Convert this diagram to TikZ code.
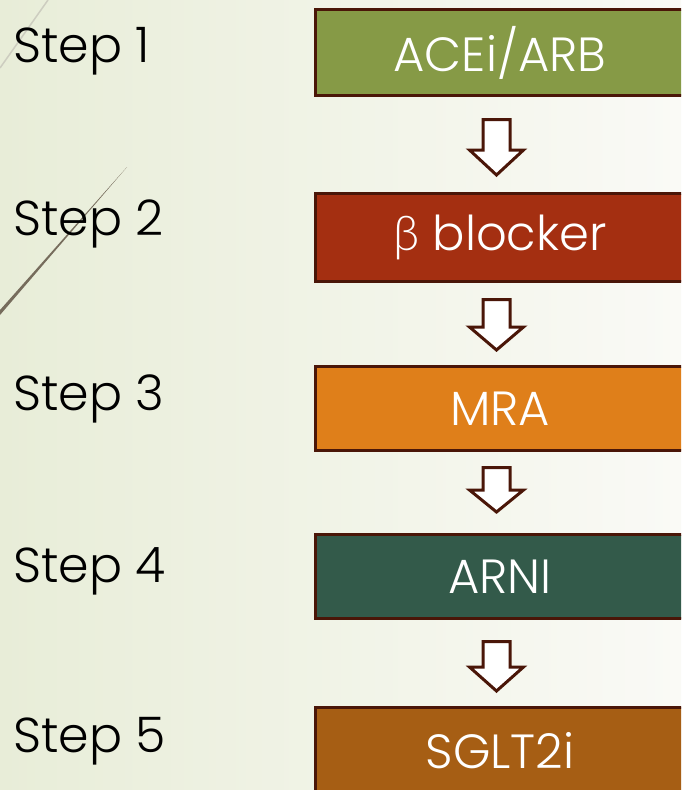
\documentclass[tikz,border=0pt]{standalone}
\usepackage{fontspec}
\setmainfont{Poppins}[UprightFont=* Light]
\newfontfamily\grk{Lato}[UprightFont=* Light]
\usetikzlibrary{calc}
\definecolor{bgleft}{RGB}{232,237,216}
\definecolor{bgright}{RGB}{250,250,246}
\definecolor{edge}{RGB}{74,22,8}
\definecolor{cA}{RGB}{134,154,70}
\definecolor{cB}{RGB}{164,47,17}
\definecolor{cC}{RGB}{223,127,26}
\definecolor{cD}{RGB}{51,90,74}
\definecolor{cE}{RGB}{166,94,20}
\definecolor{lineA}{RGB}{205,205,192}
\definecolor{lineB}{RGB}{118,108,92}
\tikzset{
  drugbox/.style={draw=edge, line width=3pt, minimum width=369pt, inner sep=0pt,
    text=white, font=\fontsize{48}{56}\selectfont},
  steplabel/.style={anchor=base west, inner sep=0pt, text=black,
    font=\fontsize{49}{58}\selectfont},
  blockarrow/.style={draw=edge, fill=white, line width=3pt, line join=miter}
}
\begin{document}
\begin{tikzpicture}[x=1pt,y=-1pt]
\useasboundingbox (0,0) rectangle (681,790);
\clip (0,0) rectangle (681,790);
\shade[left color=bgleft, right color=bgright] (0,0) rectangle (681,790);
% decorative strokes
\draw[lineA, line width=1.5pt] (0,68) -- (48,0);
\fill[lineB] (0,310) -- (127,167) -- (0,315) -- cycle;
% step labels
\node[steplabel] (s1) at (13,62) {Step 1};
\node[steplabel] (s2) at (13,235) {Step 2};
\node[steplabel] (s3) at (13,410) {Step 3};
\node[steplabel] (s4) at (13,582) {Step 4};
\node[steplabel] (s5) at (13,752) {Step 5};
% drug boxes
\node[drugbox, fill=cA, minimum height=86pt] (b1) at (500,52.5) {ACEi/ARB};
\node[drugbox, fill=cB, minimum height=88pt] (b2) at (500,237.5) {{\grk β} blocker};
\node[drugbox, fill=cC, minimum height=84pt] (b3) at (500,408.5) {MRA};
\node[drugbox, fill=cD, minimum height=84pt] (b4) at (500,576.5) {ARNI};
\node[drugbox, fill=cE, minimum height=88pt] (b5) at (500,751) {SGLT2i};
% block arrows between boxes
\foreach \t/\h/\e in {119.5/150/175, 299.5/327/350, 467.5/490/512, 641.5/667/691}{
  \draw[blockarrow] (483,\t) -- (510,\t) -- (510,\h) -- (523.5,\h) -- (496.5,\e)
    -- (469.5,\h) -- (483,\h) -- cycle;
}
\end{tikzpicture}
\end{document}
